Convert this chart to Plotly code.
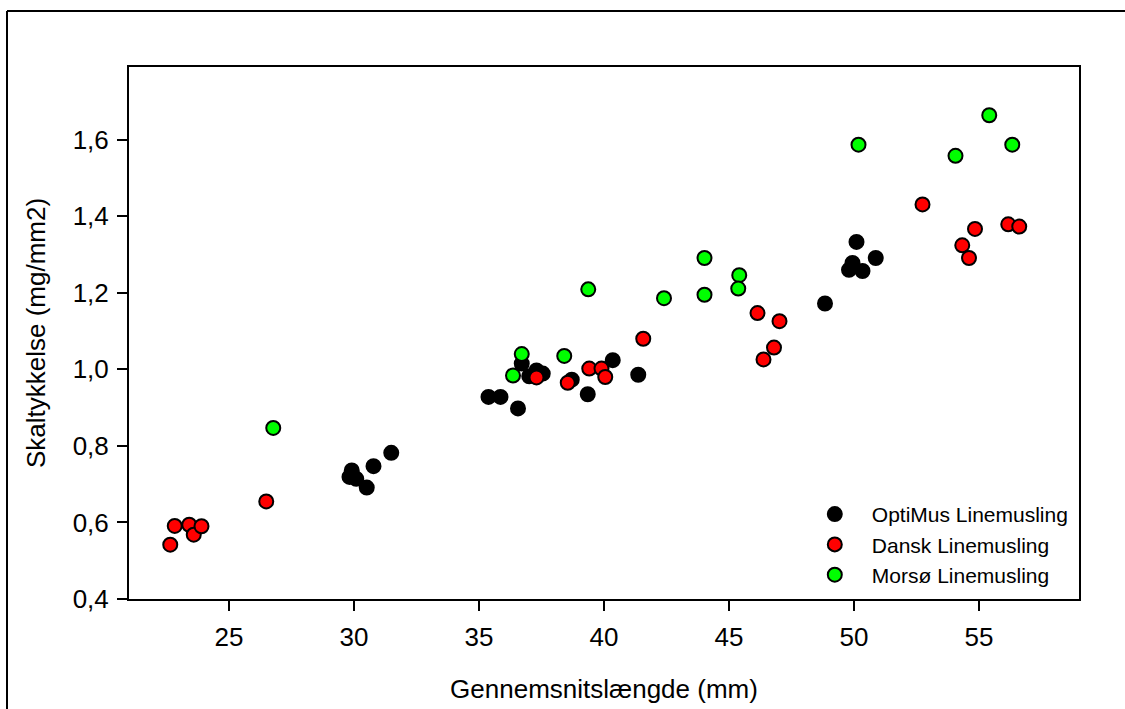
import plotly.graph_objects as go

# OptiMus Linemusling (black)
opti_x = [29.91, 29.82, 30.09, 30.51, 30.78, 31.49, 35.38, 35.86, 36.56, 36.71, 37.01, 37.30,
          37.55, 38.71, 39.35, 40.35, 41.37, 48.84, 49.80, 49.94, 50.10, 50.34, 50.87]
opti_y = [0.736, 0.719, 0.714, 0.691, 0.747, 0.782, 0.928, 0.928, 0.898, 1.015, 0.982, 0.997,
          0.989, 0.973, 0.935, 1.024, 0.986, 1.172, 1.260, 1.278, 1.333, 1.257, 1.291]

# Dansk Linemusling (red)
dansk_x = [22.65, 22.83, 23.41, 23.59, 23.90, 26.49, 37.30, 38.55, 39.41, 39.90, 40.05, 41.57,
           46.14, 47.02, 46.80, 46.38, 52.74, 54.84, 54.33, 54.60, 56.17, 56.61]
dansk_y = [0.542, 0.591, 0.594, 0.568, 0.590, 0.655, 0.979, 0.965, 1.002, 1.002, 0.980, 1.080,
           1.147, 1.126, 1.057, 1.026, 1.431, 1.367, 1.324, 1.291, 1.379, 1.373]

# Morsø Linemusling (green)
morso_x = [26.77, 36.36, 36.71, 38.41, 39.37, 42.40, 44.02, 44.02, 45.41, 45.37, 50.18, 54.06, 55.41, 56.33]
morso_y = [0.847, 0.984, 1.040, 1.035, 1.209, 1.186, 1.291, 1.195, 1.246, 1.211, 1.587, 1.558, 1.664, 1.587]

x_ticks = [25, 30, 35, 40, 45, 50, 55]
y_ticks = [0.4, 0.6, 0.8, 1.0, 1.2, 1.4, 1.6]
y_ticktext = ["0,4", "0,6", "0,8", "1,0", "1,2", "1,4", "1,6"]

FONT = "Liberation Sans, Arial, sans-serif"

fig = go.Figure()
series = [
    ("OptiMus Linemusling", opti_x, opti_y, "#000000"),
    ("Dansk Linemusling", dansk_x, dansk_y, "#ff0000"),
    ("Morsø Linemusling", morso_x, morso_y, "#00ff00"),
]
for name, xs, ys, col in series:
    fig.add_trace(go.Scatter(
        x=xs, y=ys, mode="markers", name=name,
        marker=dict(size=14, color=col, line=dict(color="#000000", width=2)),
    ))

fig.update_layout(
    width=1125, height=709,
    margin=dict(l=129, r=46, t=67, b=110, autoexpand=False),
    paper_bgcolor="white", plot_bgcolor="white",
    font=dict(family=FONT, color="black", size=20),
    showlegend=True,
    legend=dict(
        x=0.704, y=0.1975, xanchor="left", yanchor="top",
        bgcolor="rgba(0,0,0,0)", borderwidth=0,
        font=dict(family=FONT, size=21, color="black"),
        itemwidth=64,
    ),
    xaxis=dict(
        range=[21, 59], tickmode="array", tickvals=x_ticks,
        ticks="outside", ticklen=10, tickwidth=2, tickcolor="black",
        showline=True, linecolor="black", linewidth=2, mirror=True,
        showgrid=False, zeroline=False, ticklabelstandoff=4, automargin=False,
        tickfont=dict(family=FONT, size=26, color="black"),
        title=dict(text="Gennemsnitslængde (mm)", font=dict(family=FONT, size=26, color="black"), standoff=29),
    ),
    yaxis=dict(
        range=[0.4, 1.79], tickmode="array", tickvals=y_ticks, ticktext=y_ticktext,
        ticks="outside", ticklen=10, tickwidth=2, tickcolor="black",
        showline=True, linecolor="black", linewidth=2, mirror=True,
        showgrid=False, zeroline=False, ticklabelstandoff=3, automargin=False,
        tickfont=dict(family=FONT, size=26, color="black"),
        title=dict(text="Skaltykkelse (mg/mm2)", font=dict(family=FONT, size=26, color="black"), standoff=20),
    ),
)

# outer frame (left and top edges visible)
fig.add_shape(type="line", xref="paper", yref="paper",
              x0=(7 - 129) / 950, x1=1.2, y0=(599 - 11) / 532, y1=(599 - 11) / 532,
              line=dict(color="black", width=2))
fig.add_shape(type="line", xref="paper", yref="paper",
              x0=(7 - 129) / 950, x1=(7 - 129) / 950, y0=-0.3, y1=(599 - 11) / 532,
              line=dict(color="black", width=2))

fig.write_html("out.html")
